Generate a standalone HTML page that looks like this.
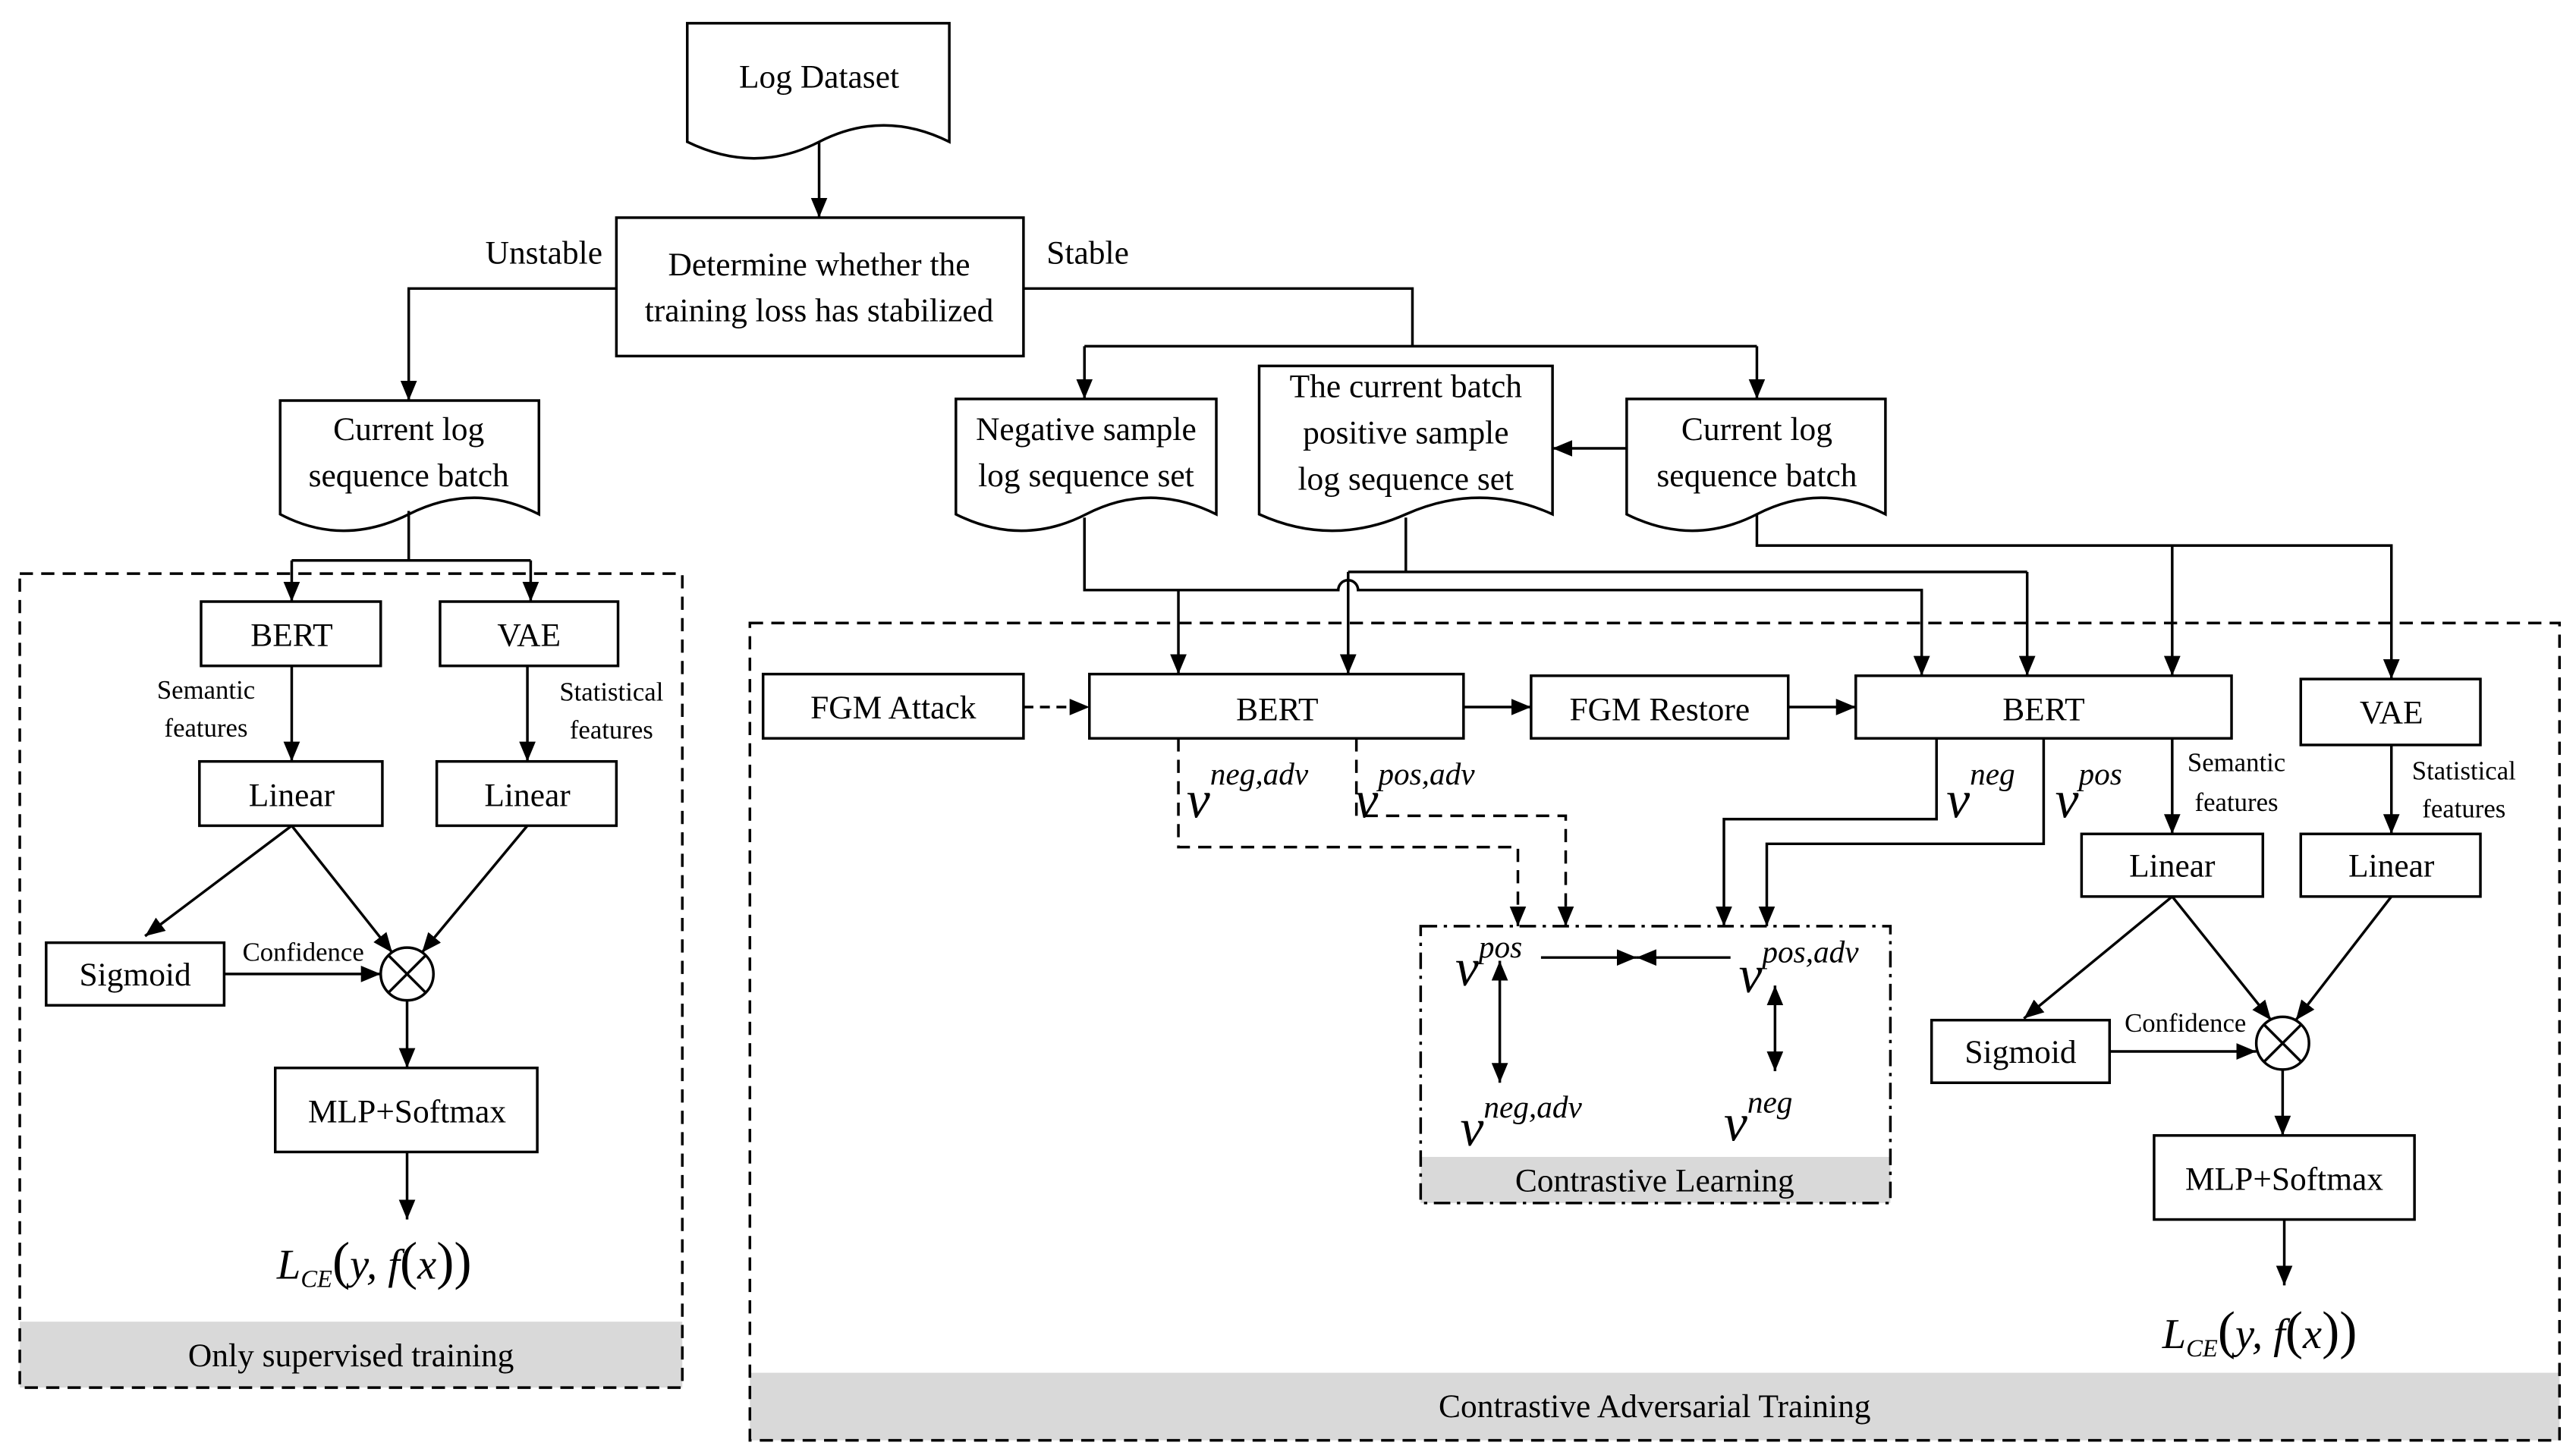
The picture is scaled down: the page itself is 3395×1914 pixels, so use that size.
<!DOCTYPE html>
<html><head><meta charset="utf-8"><style>
html,body{margin:0;padding:0;background:#fff;}
svg{display:block;}
text{font-family:"Liberation Serif",serif;fill:#000;}
</style></head><body>
<svg width="3395" height="1914" viewBox="0 0 1563 881" xmlns="http://www.w3.org/2000/svg">
<defs>
<marker id="a" markerUnits="userSpaceOnUse" markerWidth="12" markerHeight="10" refX="12" refY="5" orient="auto"><path d="M0,0 L12,5 L0,10 Z" fill="#000"/></marker>
<marker id="s" markerUnits="userSpaceOnUse" markerWidth="12" markerHeight="10" refX="0" refY="5" orient="auto"><path d="M12,0 L0,5 L12,10 Z" fill="#000"/></marker>
</defs>
<g fill="none" stroke="#000" stroke-width="1.6">
<!-- docs -->
<path d="M417,14 H576 V86 Q536,66 497,86 T417,86 Z" fill="#fff"/>
<path d="M170,243 H327 V312 Q288,292 248,312 T170,312 Z" fill="#fff"/>
<path d="M580,242 H738 V312 Q698,292 659,312 T580,312 Z" fill="#fff"/>
<path d="M764,222 H942 V312 Q898,292 853,312 T764,312 Z" fill="#fff"/>
<path d="M987,242 H1144 V312 Q1105,292 1066,312 T987,312 Z" fill="#fff"/>
<!-- boxes -->
<rect x="374" y="132" width="247" height="84"/>
<rect x="122" y="365" width="109" height="39"/>
<rect x="267" y="365" width="108" height="39"/>
<rect x="121" y="462" width="111" height="39"/>
<rect x="265" y="462" width="109" height="39"/>
<rect x="28" y="572" width="108" height="38"/>
<rect x="167" y="648" width="159" height="51"/>
<rect x="463" y="409" width="158" height="39"/>
<rect x="661" y="409" width="227" height="39"/>
<rect x="929" y="410" width="156" height="38"/>
<rect x="1126" y="410" width="228" height="38"/>
<rect x="1396" y="412" width="109" height="40"/>
<rect x="1263" y="506" width="110" height="38"/>
<rect x="1396" y="506" width="109" height="38"/>
<rect x="1172" y="619" width="108" height="38"/>
<rect x="1307" y="689" width="158" height="51"/>
<circle cx="247" cy="591" r="16"/><path d="M236,580 L258,602 M258,580 L236,602"/>
<circle cx="1385" cy="633" r="16"/><path d="M1374,622 L1396,644 M1396,622 L1374,644"/>
</g>
<rect x="12" y="802" width="402" height="40" fill="#d9d9d9"/>
<rect x="455" y="833" width="1098" height="41" fill="#d9d9d9"/>
<rect x="862" y="702" width="285" height="28" fill="#d9d9d9"/>
<g fill="none" stroke="#000" stroke-width="1.6">
<rect x="12" y="348" width="402" height="494" stroke-dasharray="8,5"/>
<rect x="455" y="378" width="1098" height="496" stroke-dasharray="8,5"/>
<rect x="862" y="562" width="285" height="168" stroke-dasharray="10,4,2,4"/>
</g>
<g fill="none" stroke="#000" stroke-width="1.6">
<path d="M497,86 V132" marker-end="url(#a)"/>
<path d="M374,175 H248 V243" marker-end="url(#a)"/>
<path d="M621,175 H857 V210"/>
<path d="M658,210 H1066"/>
<path d="M658,210 V242" marker-end="url(#a)"/>
<path d="M1066,210 V242" marker-end="url(#a)"/>
<path d="M248,310 V340"/>
<path d="M177,340 H322"/>
<path d="M177,340 V365" marker-end="url(#a)"/>
<path d="M322,340 V365" marker-end="url(#a)"/>
<path d="M177,404 V462" marker-end="url(#a)"/>
<path d="M320,404 V462" marker-end="url(#a)"/>
<path d="M177,501 L88,568" marker-end="url(#a)"/>
<path d="M177,501 L238,578" marker-end="url(#a)"/>
<path d="M320,501 L256,578" marker-end="url(#a)"/>
<path d="M136,591 H231" marker-end="url(#a)"/>
<path d="M247,607 V648" marker-end="url(#a)"/>
<path d="M247,699 V740" marker-end="url(#a)"/>
<path d="M987,272 H942" marker-end="url(#a)"/>
<path d="M658,314 V358 H812 A6,6 0 0 1 824,358 H1166 V410" marker-end="url(#a)"/>
<path d="M715,358 V409" marker-end="url(#a)"/>
<path d="M853,314 V347"/>
<path d="M818,347 H1230"/>
<path d="M818,347 V409" marker-end="url(#a)"/>
<path d="M1230,347 V410" marker-end="url(#a)"/>
<path d="M1066,312 V331 H1451 V412" marker-end="url(#a)"/>
<path d="M1318,331 V410" marker-end="url(#a)"/>
<path d="M621,429 H661" stroke-dasharray="6,4" marker-end="url(#a)"/>
<path d="M888,429 H929" marker-end="url(#a)"/>
<path d="M1085,429 H1126" marker-end="url(#a)"/>
<path d="M715,448 V514 H921 V562" stroke-dasharray="8,5" marker-end="url(#a)"/>
<path d="M823,448 V495 H950 V562" stroke-dasharray="8,5" marker-end="url(#a)"/>
<path d="M1175,448 V497 H1046 V562" marker-end="url(#a)"/>
<path d="M1240,448 V512 H1072 V562" marker-end="url(#a)"/>
<path d="M1318,448 V506" marker-end="url(#a)"/>
<path d="M1451,452 V506" marker-end="url(#a)"/>
<path d="M1318,544 L1228,618" marker-end="url(#a)"/>
<path d="M1318,544 L1378,619" marker-end="url(#a)"/>
<path d="M1451,544 L1393,619" marker-end="url(#a)"/>
<path d="M1280,638 H1369" marker-end="url(#a)"/>
<path d="M1385,649 V689" marker-end="url(#a)"/>
<path d="M1386,740 V780" marker-end="url(#a)"/>
<path d="M935,581 H993" marker-end="url(#a)"/>
<path d="M1050,581 H993" marker-end="url(#a)"/>
<path d="M910,583 V657" marker-start="url(#s)" marker-end="url(#a)"/>
<path d="M1077,598 V650" marker-start="url(#s)" marker-end="url(#a)"/>
</g>
<g font-size="20" text-anchor="middle">
<text x="497" y="53">Log Dataset</text>
<text x="497" y="167">Determine whether the</text>
<text x="497" y="195">training loss has stabilized</text>
<text x="330" y="160">Unstable</text>
<text x="660" y="160">Stable</text>
<text x="248" y="267">Current log</text>
<text x="248" y="295">sequence batch</text>
<text x="659" y="267">Negative sample</text>
<text x="659" y="295">log sequence set</text>
<text x="853" y="241">The current batch</text>
<text x="853" y="269">positive sample</text>
<text x="853" y="297">log sequence set</text>
<text x="1066" y="267">Current  log</text>
<text x="1066" y="295">sequence batch</text>
<text x="177" y="392">BERT</text>
<text x="321" y="392">VAE</text>
<text x="177" y="489">Linear</text>
<text x="320" y="489">Linear</text>
<text x="82" y="598">Sigmoid</text>
<text x="247" y="681">MLP+Softmax</text>
<text x="213" y="829">Only supervised training</text>
<text x="542" y="436">FGM Attack</text>
<text x="775" y="437">BERT</text>
<text x="1007" y="437">FGM Restore</text>
<text x="1240" y="437">BERT</text>
<text x="1451" y="439">VAE</text>
<text x="1318" y="532">Linear</text>
<text x="1451" y="532">Linear</text>
<text x="1226" y="645">Sigmoid</text>
<text x="1386" y="722">MLP+Softmax</text>
<text x="1004" y="723">Contrastive Learning</text>
<text x="1004" y="860">Contrastive Adversarial Training</text>
</g>
<g font-size="16" text-anchor="middle">
<text x="125" y="424">Semantic</text>
<text x="125" y="447">features</text>
<text x="371" y="425">Statistical</text>
<text x="371" y="448">features</text>
<text x="184" y="583">Confidence</text>
<text x="1357" y="468">Semantic</text>
<text x="1357" y="492">features</text>
<text x="1495" y="473">Statistical</text>
<text x="1495" y="496">features</text>
<text x="1326" y="626">Confidence</text>
</g>
<g font-style="italic">
<text x="720" y="496" font-size="32">v<tspan font-size="19" dy="-20">neg,adv</tspan></text>
<text x="822" y="496" font-size="32">v<tspan font-size="19" dy="-20">pos,adv</tspan></text>
<text x="1181" y="496" font-size="32">v<tspan font-size="19" dy="-20">neg</tspan></text>
<text x="1247" y="496" font-size="32">v<tspan font-size="19" dy="-20">pos</tspan></text>
<text x="883" y="598" font-size="32">v<tspan font-size="19" dy="-17">pos</tspan></text>
<text x="1055" y="602" font-size="32">v<tspan font-size="19" dy="-18">pos,adv</tspan></text>
<text x="886" y="695" font-size="32">v<tspan font-size="19" dy="-17">neg,adv</tspan></text>
<text x="1046" y="692" font-size="32">v<tspan font-size="19" dy="-17">neg</tspan></text>
<text x="168" y="776" font-size="26">L<tspan font-size="15" dy="5">CE</tspan><tspan dy="-5" font-style="normal" font-size="32">(</tspan>y, f<tspan font-style="normal" font-size="32">(</tspan>x<tspan font-style="normal" font-size="32">))</tspan></text>
<text x="1312" y="818" font-size="26">L<tspan font-size="15" dy="5">CE</tspan><tspan dy="-5" font-style="normal" font-size="32">(</tspan>y, f<tspan font-style="normal" font-size="32">(</tspan>x<tspan font-style="normal" font-size="32">))</tspan></text>
</g>
</svg>
</body></html>
